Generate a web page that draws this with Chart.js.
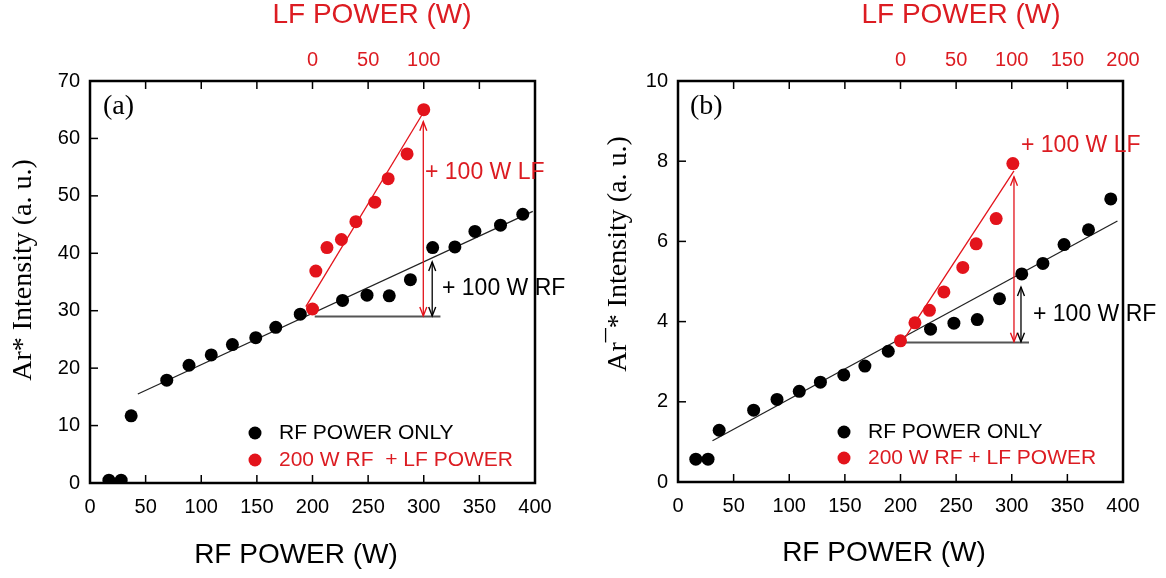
<!DOCTYPE html>
<html>
<head>
<meta charset="utf-8">
<script src="https://cdn.jsdelivr.net/npm/chart.js@4.4.0/dist/chart.umd.min.js"></script>
<style>
    body { margin: 0; background: #fff; }
    .wrap { position: relative; width: 1166px; height: 578px; }
    canvas { position: absolute; top: 0; }
    #chartA { left: 0; }
    #chartB { left: 583px; }
</style>
</head>
<body>
<div class="wrap">
    <canvas id="chartA" width="583" height="578"></canvas>
    <canvas id="chartB" width="583" height="578"></canvas>
</div>
<script>
// ---- panel (a): Ar* intensity ----
const rfPowerA = [17, 28, 37, 69, 89, 109, 128, 149, 167, 189, 227, 249, 269, 288, 308, 328, 346, 369, 389];
const rfOnlyA  = [0.5, 0.5, 11.7, 17.9, 20.5, 22.3, 24.1, 25.3, 27.1, 29.4, 31.8, 32.7, 32.6, 35.4, 41.0, 41.1, 43.8, 44.9, 46.8];
const lfPowerA = [0, 3, 13, 26, 39, 56, 68, 85, 100];
const lfAddA   = [30.3, 36.9, 41.0, 42.4, 45.5, 48.9, 53.0, 57.3, 65.0];
const fitRfXA = [43, 398],   fitRfYA = [15.5, 47.3];
const fitLfXA = [194, 299],  fitLfYA = [30.7, 64.3];
const baseXA  = [202, 315],  baseYA  = [29.0, 29.0];
const arrowLfXA = [299.6, 299.6], arrowLfYA = [29.1, 62.9];
const arrowRfXA = [307.6, 307.6], arrowRfYA = [29.1, 38.5];

// ---- panel (b): Ar-* intensity ----
const rfPowerB = [16, 27, 37, 68, 89, 109, 128, 149, 168, 189, 227, 248, 269, 289, 309, 328, 347, 369, 389];
const rfOnlyB  = [0.57, 0.57, 1.29, 1.79, 2.06, 2.26, 2.49, 2.67, 2.89, 3.26, 3.81, 3.96, 4.05, 4.57, 5.19, 5.45, 5.92, 6.29, 7.06];
const lfPowerB = [0, 13, 26, 39, 56, 68, 86, 101];
const lfAddB   = [3.52, 3.97, 4.28, 4.74, 5.35, 5.94, 6.57, 7.94];
const fitRfXB = [31, 395],   fitRfYB = [1.03, 6.51];
const fitLfXB = [201, 302],  fitLfYB = [3.47, 7.76];
const baseXB  = [202, 315.5], baseYB = [3.48, 3.48];
const arrowLfXB = [302, 302],     arrowLfYB = [3.5, 7.61];
const arrowRfXB = [308.3, 308.3], arrowRfYB = [3.5, 4.86];

const rfTicks = { min: 0, max: 400, step: 50 };
const lfTicks = { min: -200, max: 200, step: 50 };

const RED = '#e3131b';
const RED_TEXT = '#dc1c22';
const SANS = '"Liberation Sans", Arial, sans-serif';
const SERIF = '"Liberation Serif", "Times New Roman", serif';

Chart.defaults.font.family = SANS;
Chart.defaults.color = '#000';

const pts = (xs, ys) => xs.map((x, i) => ({ x, y: ys[i] }));

function drawHead(ctx, tip, from, color) {
    const ang = Math.atan2(tip.y - from.y, tip.x - from.x);
    const len = 9, half = 3.5;
    ctx.strokeStyle = color;
    ctx.lineWidth = 1.4;
    ctx.beginPath();
    ctx.moveTo(tip.x - len * Math.cos(ang) + half * Math.sin(ang), tip.y - len * Math.sin(ang) - half * Math.cos(ang));
    ctx.lineTo(tip.x, tip.y);
    ctx.lineTo(tip.x - len * Math.cos(ang) - half * Math.sin(ang), tip.y - len * Math.sin(ang) + half * Math.cos(ang));
    ctx.stroke();
}

function drawInnerTicks(ctx, scale, area) {
    scale.ticks.forEach(t => {
        if (t.value <= scale.min || t.value >= scale.max) return;
        const p = scale.getPixelForValue(t.value);
        ctx.beginPath();
        if (scale.axis === 'y') {
            ctx.moveTo(area.left, p); ctx.lineTo(area.left + 8, p);
        } else if (scale.position === 'top') {
            ctx.moveTo(p, area.top); ctx.lineTo(p, area.top + 8);
        } else {
            ctx.moveTo(p, area.bottom); ctx.lineTo(p, area.bottom - 8);
        }
        ctx.stroke();
    });
}

// frame, inward ticks, arrowheads and free text
const panelDecor = {
    id: 'panelDecor',
    afterDatasetsDraw(chart) {
        const { ctx, chartArea: a, scales } = chart;
        ctx.save();
        ctx.strokeStyle = '#000';
        ctx.lineWidth = 1.5;
        ['x', 'x2', 'y'].forEach(id => drawInnerTicks(ctx, scales[id], a));
        ctx.lineWidth = 2.5;
        ctx.strokeRect(a.left, a.top, a.right - a.left, a.bottom - a.top);
        chart.data.datasets.forEach((ds, i) => {
            if (!ds.arrow) return;
            const [p0, p1] = chart.getDatasetMeta(i).data;
            drawHead(ctx, p0, p1, ds.borderColor);
            drawHead(ctx, p1, p0, ds.borderColor);
        });
        ctx.restore();
    },
    afterDraw(chart, args, opts) {
        const { ctx } = chart;
        (opts.texts || []).forEach(t => {
            ctx.save();
            ctx.font = t.font;
            ctx.fillStyle = t.color || '#000';
            ctx.textAlign = t.align || 'left';
            ctx.textBaseline = 'middle';
            ctx.translate(t.x, t.y);
            if (t.rotate) ctx.rotate(t.rotate);
            ctx.fillText(t.text, 0, 0);
            ctx.restore();
        });
        (opts.legend || []).forEach(l => {
            ctx.save();
            ctx.fillStyle = l.dot;
            ctx.beginPath();
            ctx.arc(l.x, l.y, 6.5, 0, Math.PI * 2);
            ctx.fill();
            ctx.font = '21px ' + SANS;
            ctx.fillStyle = l.color;
            ctx.textBaseline = 'middle';
            ctx.fillText(l.text, l.x + 24, l.y);
            ctx.restore();
        });
    }
};

function makePanel(canvasId, p) {
    const lineDs = (data, color, width, extra = {}) => Object.assign({
        type: 'line', data, borderColor: color, borderWidth: width,
        pointRadius: 0, showLine: true, fill: false, tension: 0
    }, extra);

    return new Chart(document.getElementById(canvasId), {
        type: 'scatter',
        data: {
            datasets: [
                { data: pts(p.lfPower, p.lfAdd), xAxisID: 'x2', backgroundColor: RED, borderWidth: 0, pointRadius: 6.5 },
                { data: pts(p.rfPower, p.rfOnly), xAxisID: 'x', backgroundColor: '#000', borderWidth: 0, pointRadius: 6.5 },
                lineDs(pts(p.arrowLf[0], p.arrowLf[1]), RED, 1.3, { arrow: true }),
                lineDs(pts(p.arrowRf[0], p.arrowRf[1]), '#000', 1.3, { arrow: true }),
                lineDs(pts(p.fitLf[0], p.fitLf[1]), RED, 1.3),
                lineDs(pts(p.fitRf[0], p.fitRf[1]), '#222', 1.3),
                lineDs(pts(p.base[0], p.base[1]), '#555', 2)
            ]
        },
        options: {
            responsive: false,
            animation: false,
            layout: { padding: { left: 0, right: p.padRight, top: 0, bottom: 0 } },
            plugins: {
                legend: { display: false },
                tooltip: { enabled: false },
                panelDecor: { texts: p.texts, legend: p.legend }
            },
            scales: {
                x: {
                    type: 'linear', position: 'bottom',
                    min: rfTicks.min, max: rfTicks.max,
                    grid: { display: false, drawTicks: false },
                    border: { display: false },
                    ticks: { stepSize: rfTicks.step, autoSkip: false, maxRotation: 0, padding: 12, font: { size: 20 } },
                    afterFit: s => { s.height = p.bottomH; }
                },
                x2: {
                    type: 'linear', position: 'top',
                    min: lfTicks.min, max: lfTicks.max,
                    grid: { display: false, drawTicks: false },
                    border: { display: false },
                    ticks: {
                        stepSize: lfTicks.step, autoSkip: false, maxRotation: 0, padding: 9,
                        color: RED_TEXT, font: { size: 20 },
                        callback: v => (v >= 0 && v <= p.lfLabelMax) ? String(v) : ''
                    },
                    afterFit: s => { s.height = 81; }
                },
                y: {
                    type: 'linear', position: 'left',
                    min: p.yMin, max: p.yMax,
                    grid: { display: false, drawTicks: false },
                    border: { display: false },
                    ticks: { stepSize: p.yStep, autoSkip: false, padding: 10, font: { size: 20 } },
                    afterFit: s => { s.width = p.yAxisW; }
                }
            }
        },
        plugins: [panelDecor]
    });
}

document.addEventListener('DOMContentLoaded', () => {
    makePanel('chartA', {
        rfPower: rfPowerA, rfOnly: rfOnlyA, lfPower: lfPowerA, lfAdd: lfAddA,
        fitRf: [fitRfXA, fitRfYA], fitLf: [fitLfXA, fitLfYA], base: [baseXA, baseYA],
        arrowLf: [arrowLfXA, arrowLfYA], arrowRf: [arrowRfXA, arrowRfYA],
        yMin: 0, yMax: 70, yStep: 10, lfLabelMax: 100,
        yAxisW: 90, padRight: 48, bottomH: 95,
        texts: [
            { text: 'LF POWER (W)', x: 372, y: 15, align: 'center', color: RED_TEXT, font: '28px ' + SANS },
            { text: 'RF POWER (W)', x: 296, y: 555, align: 'center', font: '28px ' + SANS },
            { text: 'Ar* Intensity (a. u.)', x: 24, y: 270, align: 'center', rotate: -Math.PI / 2, font: '28px ' + SERIF },
            { text: '(a)', x: 103, y: 107, font: '28px ' + SERIF },
            { text: '+ 100 W LF', x: 425, y: 173, color: RED_TEXT, font: '23px ' + SANS },
            { text: '+ 100 W RF', x: 442, y: 289, font: '23px ' + SANS }
        ],
        legend: [
            { text: 'RF POWER ONLY', x: 255, y: 433, dot: '#000', color: '#000' },
            { text: '200 W RF  + LF POWER', x: 255, y: 460, dot: RED, color: RED_TEXT }
        ]
    });

    makePanel('chartB', {
        rfPower: rfPowerB, rfOnly: rfOnlyB, lfPower: lfPowerB, lfAdd: lfAddB,
        fitRf: [fitRfXB, fitRfYB], fitLf: [fitLfXB, fitLfYB], base: [baseXB, baseYB],
        arrowLf: [arrowLfXB, arrowLfYB], arrowRf: [arrowRfXB, arrowRfYB],
        yMin: 0, yMax: 10, yStep: 2, lfLabelMax: 200,
        yAxisW: 95, padRight: 43, bottomH: 96,
        texts: [
            { text: 'LF POWER (W)', x: 378, y: 15, align: 'center', color: RED_TEXT, font: '28px ' + SANS },
            { text: 'RF POWER (W)', x: 301, y: 553, align: 'center', font: '28px ' + SANS },
            { text: 'Ar\u00AF* Intensity (a. u.)', x: 36, y: 254, align: 'center', rotate: -Math.PI / 2, font: '28px ' + SERIF },
            { text: '(b)', x: 107, y: 107, font: '28px ' + SERIF },
            { text: '+ 100 W LF', x: 438, y: 146, color: RED_TEXT, font: '23px ' + SANS },
            { text: '+ 100 W RF', x: 450, y: 315, font: '23px ' + SANS }
        ],
        legend: [
            { text: 'RF POWER ONLY', x: 261, y: 432, dot: '#000', color: '#000' },
            { text: '200 W RF + LF POWER', x: 261, y: 458, dot: RED, color: RED_TEXT }
        ]
    });
});
</script>
</body>
</html>
